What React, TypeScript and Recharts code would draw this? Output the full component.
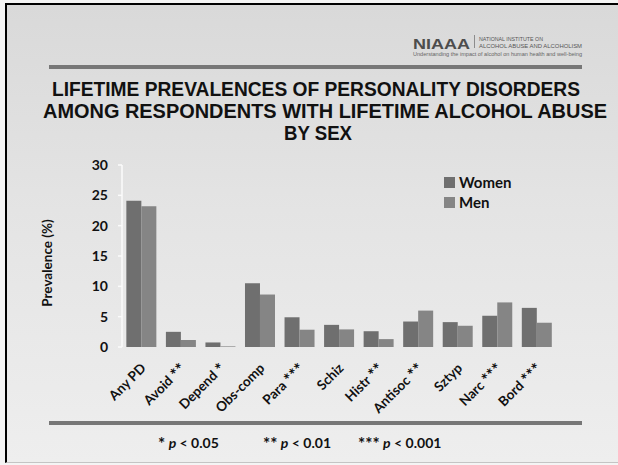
import React from "react";
import { BarChart, Bar, XAxis, YAxis, Legend } from "recharts";

// Personality disorder categories (with significance markers)
const categories = [
  "Any PD",
  "Avoid **",
  "Depend *",
  "Obs-comp",
  "Para ***",
  "Schiz",
  "Histr **",
  "Antisoc **",
  "Sztyp",
  "Narc ***",
  "Bord ***",
];

// Lifetime prevalence (%) among respondents with lifetime alcohol abuse
const women = [24.1, 2.5, 0.75, 10.5, 4.9, 3.65, 2.6, 4.2, 4.1, 5.15, 6.45];
const men = [23.2, 1.15, 0.1, 8.65, 2.85, 2.9, 1.3, 6.0, 3.5, 7.35, 4.0];

const yTicks = [0, 5, 10, 15, 20, 25, 30];

const data = categories.map((name, i) => ({ name, Women: women[i], Men: men[i] }));
const edgeTicks = categories.map((_, i) => i).concat([categories.length]);

const FONT = "Lato, 'Open Sans', sans-serif";
const TITLE_FONT = "'Liberation Sans', Arial, sans-serif";
const WOMEN_COLOR = "#6f6f6f";
const MEN_COLOR = "#858585";
const AXIS_COLOR = "#fbfbfb";

// Lato's asterisk is small, so significance stars get a larger size
const Stars = ({ children, size }: { children: string; size: number }) => (
  <tspan fontSize={size} dy={2}>
    {children}
  </tspan>
);

const CategoryTick = (props: any) => {
  const { x, y, payload } = props;
  const ax = x + 5;
  const ay = y + 14;
  const value: string = payload.value;
  const m = value.match(/^(.*?)( )(\*+)$/);
  return (
    <text
      x={ax}
      y={ay}
      transform={`rotate(-45, ${ax}, ${ay})`}
      textAnchor="end"
      fontFamily={FONT}
      fontWeight={700}
      fontSize={13.5}
      fill="#111"
    >
      {m ? (
        <>
          {m[1] + " "}
          <Stars size={17}>{m[3]}</Stars>
        </>
      ) : (
        value
      )}
    </text>
  );
};

const LegendBox = () => (
  <div style={{ fontFamily: FONT, fontWeight: 700, fontSize: 15, color: "#111", lineHeight: "20px" }}>
    {[
      { label: "Women", color: WOMEN_COLOR },
      { label: "Men", color: MEN_COLOR },
    ].map((item) => (
      <div key={item.label} style={{ display: "flex", alignItems: "center" }}>
        <span style={{ display: "inline-block", width: 11, height: 11, background: item.color, marginRight: 4 }} />
        {item.label}
      </div>
    ))}
  </div>
);

export default function App() {
  return (
    <div
      style={{
        position: "absolute",
        top: 0,
        left: 0,
        width: 618,
        height: 465,
        overflow: "hidden",
        background: "#f4f4f4",
      }}
    >
      {/* slide panel */}
      <div
        style={{
          position: "absolute",
          left: 5,
          top: 3,
          width: 620,
          height: 460,
          boxSizing: "border-box",
          borderLeft: "2.5px solid #000",
          borderTop: "2.5px solid #000",
          borderBottom: "1px solid #c4c4c4",
          background: "linear-gradient(to bottom, #d9d9d9 0%, #e4e4e4 45%, #eeeeee 100%)",
        }}
      />
      <svg width={618} height={465} style={{ position: "absolute", top: 0, left: 0 }}>
        {/* NIAAA header */}
        <text x={413} y={49} fontFamily={TITLE_FONT} fontWeight={700} fontSize={15} fill="#4d4d4d" textLength={57} lengthAdjust="spacingAndGlyphs">
          NIAAA
        </text>
        <line x1={474.5} y1={35} x2={474.5} y2={48} stroke="#777" strokeWidth={0.8} />
        <text x={479} y={41} fontFamily={TITLE_FONT} fontSize={6} fill="#555" textLength={64} lengthAdjust="spacingAndGlyphs">
          NATIONAL INSTITUTE ON
        </text>
        <text x={479} y={47.5} fontFamily={TITLE_FONT} fontSize={6} fill="#555" textLength={103} lengthAdjust="spacingAndGlyphs">
          ALCOHOL ABUSE AND ALCOHOLISM
        </text>
        <text x={413} y={56} fontFamily={TITLE_FONT} fontSize={5} fill="#666" textLength={169} lengthAdjust="spacingAndGlyphs">
          Understanding the impact of alcohol on human health and well-being
        </text>
        <rect x={49} y={65} width={533} height={4} fill="#777" />

        {/* title */}
        <g fontFamily={TITLE_FONT} fontWeight={700} fontSize={19.5} fill="#111">
          <text x={52} y={95.5} textLength={528} lengthAdjust="spacingAndGlyphs">
            LIFETIME PREVALENCES OF PERSONALITY DISORDERS
          </text>
          <text x={43} y={117.5} textLength={564} lengthAdjust="spacingAndGlyphs">
            AMONG RESPONDENTS WITH LIFETIME ALCOHOL ABUSE
          </text>
          <text x={318} y={139.5} textAnchor="middle" textLength={68} lengthAdjust="spacingAndGlyphs">
            BY SEX
          </text>
        </g>

        {/* y-axis title */}
        <text
          x={47}
          y={263}
          transform="rotate(-90, 47, 263)"
          textAnchor="middle"
          dominantBaseline="central"
          fontFamily={FONT}
          fontWeight={700}
          fontSize={13.5}
          fill="#111"
        >
          Prevalence (%)
        </text>

        {/* footer rule and significance key */}
        <rect x={49} y={421} width={533} height={4} fill="#777" />
        <g fontFamily={FONT} fontWeight={700} fontSize={14} fill="#111">
          <text x={158} y={448}>
            <Stars size={17}>*</Stars>
            <tspan dy={-2}> </tspan>
            <tspan fontStyle="italic">p</tspan> {"< 0.05"}
          </text>
          <text x={263} y={448}>
            <Stars size={17}>**</Stars>
            <tspan dy={-2}> </tspan>
            <tspan fontStyle="italic">p</tspan> {"< 0.01"}
          </text>
          <text x={358} y={448}>
            <Stars size={17}>***</Stars>
            <tspan dy={-2}> </tspan>
            <tspan fontStyle="italic">p</tspan> {"< 0.001"}
          </text>
        </g>
      </svg>

      <div style={{ position: "absolute", top: 0, left: 0 }}>
        <BarChart
          width={618}
          height={465}
          data={data}
          margin={{ top: 165, right: 61, bottom: 38, left: 62 }}
          barCategoryGap="11%"
          barGap={0}
        >
          <XAxis
            xAxisId="edges"
            type="number"
            domain={[0, categories.length]}
            ticks={edgeTicks}
            tick={false}
            height={0}
            tickSize={4}
            axisLine={{ stroke: AXIS_COLOR, strokeWidth: 1.5 }}
            tickLine={{ stroke: AXIS_COLOR, strokeWidth: 1.5 }}
            allowDataOverflow
          />
          <XAxis
            dataKey="name"
            interval={0}
            height={80}
            axisLine={false}
            tickLine={false}
            tick={<CategoryTick />}
          />
          <YAxis
            width={60}
            domain={[0, 30]}
            ticks={yTicks}
            interval={0}
            tickSize={4}
            tickMargin={10}
            axisLine={{ stroke: AXIS_COLOR, strokeWidth: 1.5 }}
            tickLine={{ stroke: AXIS_COLOR, strokeWidth: 1.5 }}
            tick={{ fontFamily: FONT, fontWeight: 700, fontSize: 14, fill: "#111" }}
          />
          <Legend
            layout="vertical"
            verticalAlign="middle"
            align="center"
            content={<LegendBox />}
            wrapperStyle={{ position: "absolute", left: 444, top: 172, width: 100 }}
          />
          <Bar dataKey="Women" fill={WOMEN_COLOR} isAnimationActive={false} />
          <Bar dataKey="Men" fill={MEN_COLOR} isAnimationActive={false} />
        </BarChart>
      </div>
    </div>
  );
}
